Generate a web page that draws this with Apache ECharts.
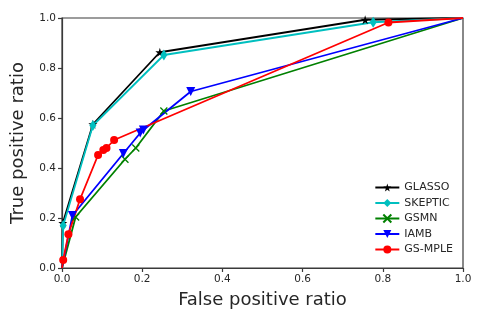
<!DOCTYPE html>
<html>
  <head>
    <meta charset="UTF-8" />
    <title>ROC</title>
    <style>
      html,
      body {
        margin: 0;
        padding: 0;
        background: #fff;
      }
      #main {
        width: 485px;
        height: 323px;
      }
    </style>
    <script src="https://cdn.jsdelivr.net/npm/echarts@6/dist/echarts.min.js"></script>
  </head>
  <body>
    <div id="main"></div>
    <script>
      // [false positive ratio, true positive ratio]
      var glasso = [[0, 0], [0.002, 0.18], [0.077, 0.575], [0.244, 0.863], [0.756, 0.993], [1, 1]];
      var skeptic = [[0, 0], [0.003, 0.17], [0.077, 0.57], [0.254, 0.852], [0.776, 0.983], [1, 1]];
      var gsmn = [[0, 0], [0.034, 0.204], [0.157, 0.435], [0.184, 0.48], [0.254, 0.628], [1, 1]];
      var iamb = [[0, 0], [0.026, 0.21], [0.153, 0.458], [0.195, 0.54], [0.203, 0.552], [0.321, 0.706], [1, 1]];
      var gsmple = [[0, 0], [0.003, 0.032], [0.016, 0.135], [0.045, 0.275], [0.09, 0.452], [0.103, 0.472], [0.111, 0.48], [0.13, 0.512], [0.814, 0.982], [1, 1]];

      var starPath = "path://M50,0L61,35L98,35L68,57L79,91L50,70L21,91L32,57L2,35L39,35Z";
      var crossPath = "path://M0,0L10,10M10,0L0,10";

      // markers sitting on the (0,0) and (1,1) corners are clipped away in the original
      function pts(data) {
        return data.map(function (p) {
          var corner = (p[0] === 0 && p[1] === 0) || (p[0] === 1 && p[1] === 1);
          return corner ? { value: p, symbol: "none" } : p;
        });
      }

      function mk(name, data, color, symbol, size, extra) {
        var s = {
          name: name,
          type: "line",
          data: pts(data),
          symbol: symbol,
          symbolSize: size,
          showSymbol: true,
          animation: false,
          lineStyle: { color: color, width: 1.8 },
          itemStyle: { color: color },
        };
        for (var k in extra) s[k] = extra[k];
        return s;
      }

      var myChart = echarts.init(document.getElementById("main"));
      var option = {
        animation: false,
        grid: {
          left: 62,
          right: 22,
          top: 18,
          bottom: 55,
          show: true,
          borderColor: "#3a3a3a",
          borderWidth: 1.2,
          backgroundColor: "#fff",
        },
        legend: {
          orient: "vertical",
          right: 27,
          top: 177,
          itemWidth: 24,
          itemHeight: 10,
          itemGap: 4.5,
          textStyle: { fontFamily: "DejaVu Sans", fontSize: 11, color: "#262626" },
          data: ["GLASSO", "SKEPTIC", "GSMN", "IAMB", "GS-MPLE"],
        },
        xAxis: {
          type: "value",
          min: 0,
          max: 1,
          interval: 0.2,
          name: "False positive ratio",
          nameLocation: "middle",
          nameGap: 23,
          nameTextStyle: { fontFamily: "DejaVu Sans", fontSize: 18, color: "#262626" },
          splitLine: { show: false },
          axisLine: { lineStyle: { color: "#3a3a3a", width: 1.2 } },
          axisTick: { show: true, length: 4, lineStyle: { color: "#3a3a3a", width: 1.2 } },
          axisLabel: {
            margin: 6,
            fontFamily: "DejaVu Sans",
            fontSize: 10.5,
            color: "#262626",
            formatter: function (v) {
              return v.toFixed(1);
            },
          },
        },
        yAxis: {
          type: "value",
          min: 0,
          max: 1,
          interval: 0.2,
          name: "True positive ratio",
          nameLocation: "middle",
          nameGap: 35,
          nameTextStyle: { fontFamily: "DejaVu Sans", fontSize: 18, color: "#262626" },
          splitLine: { show: false },
          axisLine: { show: true, lineStyle: { color: "#3a3a3a", width: 1.2 } },
          axisTick: { show: true, length: 4, lineStyle: { color: "#3a3a3a", width: 1.2 } },
          axisLabel: {
            margin: 6,
            fontFamily: "DejaVu Sans",
            fontSize: 10.5,
            color: "#262626",
            formatter: function (v) {
              return v.toFixed(1);
            },
          },
        },
        series: [
          mk("GLASSO", glasso, "#000000", starPath, 9, {}),
          mk("SKEPTIC", skeptic, "#00bfbf", "diamond", [7, 11], {}),
          mk("GSMN", gsmn, "#008000", crossPath, 7, {
            itemStyle: { color: "#008000", borderColor: "#008000", borderWidth: 1.3 },
          }),
          mk("IAMB", iamb, "#0000ff", "triangle", 9, { symbolRotate: 180 }),
          mk("GS-MPLE", gsmple, "#ff0000", "circle", 8, {}),
        ],
      };
      myChart.setOption(option);
    </script>
  </body>
</html>
